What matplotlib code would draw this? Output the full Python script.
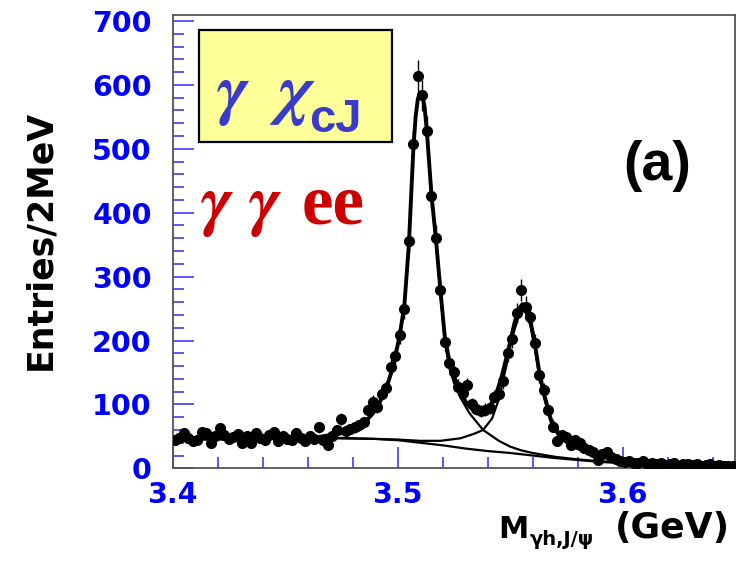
import numpy as np
import matplotlib
matplotlib.use("Agg")
import matplotlib.pyplot as plt
from matplotlib.patches import Rectangle
from matplotlib.ticker import MultipleLocator

# binning: 2 MeV bins from 3.40 to 3.65 GeV
bin_lo = 3.40
bin_width = 0.002

# entries per bin
counts = [
    44, 48, 55, 47, 42, 45, 57, 56, 40, 50,
    63, 52, 46, 49, 53, 39, 50, 39, 55, 48,
    45, 52, 57, 43, 50, 46, 44, 55, 48, 43,
    50, 46, 64, 44, 36, 50, 60, 77, 58, 61,
    64, 67, 72, 91, 104, 96, 117, 125, 159, 176,
    209, 249, 355, 507, 614, 584, 528, 426, 361, 279,
    198, 165, 150, 128, 118, 130, 100, 93, 90, 92,
    94, 112, 117, 136, 180, 203, 243, 279, 253, 237,
    196, 146, 122, 91, 65, 42, 52, 49, 36, 44,
    39, 31, 29, 25, 13, 22, 26, 17, 15, 12,
    10, 12, 8, 9, 11, 7, 8, 6, 9, 5,
    7, 8, 4, 6, 7, 5, 6, 3, 5, 6,
    4, 5, 3, 4, 3,
]

# full fit
fit_x = [3.400, 3.440, 3.465, 3.475, 3.480, 3.485, 3.489, 3.492, 3.495, 3.497,
         3.499, 3.501, 3.503, 3.505, 3.507, 3.508, 3.509, 3.510, 3.511, 3.512,
         3.513, 3.515, 3.517, 3.519, 3.521, 3.523, 3.525, 3.528, 3.531, 3.534,
         3.537, 3.540, 3.543, 3.546, 3.549, 3.552, 3.554, 3.5555, 3.557, 3.559,
         3.561, 3.563, 3.565, 3.568, 3.572, 3.578, 3.585, 3.592, 3.600, 3.615,
         3.630, 3.650]
fit_y = [46, 47, 49, 55, 60, 70, 86, 103, 125, 148,
         175, 210, 255, 350, 500, 550, 578, 588, 584, 565,
         528, 430, 360, 280, 205, 168, 145, 118, 100, 90,
         88, 93, 108, 140, 182, 228, 250, 257, 252, 232,
         195, 150, 118, 78, 52, 37, 27, 19, 13, 9,
         6, 4]

# background + first peak
p1_x = [3.515, 3.517, 3.519, 3.521, 3.523, 3.525, 3.528, 3.532, 3.538, 3.545,
        3.550, 3.555, 3.560, 3.570, 3.580, 3.590, 3.600, 3.620, 3.650]
p1_y = [428, 355, 275, 197, 158, 134, 110, 86, 60, 43,
        34, 28, 24, 18, 14, 11, 9, 6, 3]

# background + second peak
p2_x = [3.400, 3.470, 3.490, 3.500, 3.510, 3.519, 3.528, 3.534, 3.538, 3.542,
        3.545, 3.548, 3.551, 3.554, 3.5555, 3.557, 3.559, 3.561, 3.563, 3.565,
        3.568, 3.572, 3.578, 3.585, 3.592, 3.600, 3.620, 3.650]
p2_y = [46, 48, 46, 45, 43, 43, 47, 54, 60, 78,
        108, 155, 205, 240, 248, 243, 224, 188, 144, 112,
        73, 47, 33, 23, 16, 11, 7, 3]

# background only
bg_x = [3.400, 3.470, 3.490, 3.500, 3.510, 3.520, 3.530, 3.540, 3.550, 3.560,
        3.570, 3.580, 3.590, 3.600, 3.620, 3.650]
bg_y = [45, 47, 46, 44, 40, 36, 31, 27, 24, 20, 16, 13, 10, 8, 6, 3]

x_ticks = [3.4, 3.5, 3.6]
x_ticklabels = ["3.4", "3.5", "3.6"]
y_ticks = [0, 100, 200, 300, 400, 500, 600, 700]

W, H = 753, 568


def fxy(px, py):
    """pixel position -> figure fraction"""
    return px / W, 1 - py / H


fig = plt.figure(figsize=(W / 100, H / 100), dpi=100)
ax = fig.add_axes([172.7 / W, 1 - 468.3 / H, (735 - 172.7) / W, (468.3 - 15) / H])

centers = bin_lo + bin_width * (np.arange(len(counts)) + 0.5)
counts = np.array(counts, dtype=float)

ax.plot(bg_x, bg_y, color="black", lw=1.6, zorder=2)
ax.plot(p1_x, p1_y, color="black", lw=1.6, zorder=2)
ax.plot(p2_x, p2_y, color="black", lw=1.6, zorder=2)
ax.plot(fit_x, fit_y, color="black", lw=2.8, zorder=3)
ax.errorbar(centers, counts, yerr=np.sqrt(counts), fmt="o", color="black",
            ms=7, elinewidth=1.0, capsize=0, zorder=4)

ax.set_xlim(3.4, 3.65)
ax.set_ylim(0, 709.4)
ax.set_xticks(x_ticks)
ax.set_xticklabels(x_ticklabels)
ax.set_yticks(y_ticks)
ax.xaxis.set_minor_locator(MultipleLocator(0.02))
ax.yaxis.set_minor_locator(MultipleLocator(20))

tick_col = "#4a4aff"
ax.tick_params(which="both", direction="in", color=tick_col, width=1.3,
               top=False, right=False)
ax.tick_params(which="major", length=15)
ax.tick_params(which="minor", length=8)
ax.tick_params(axis="y", which="major", pad=15, labelsize=20.5, labelcolor="#0000ff")
ax.tick_params(axis="x", which="major", pad=9, labelsize=20.5, labelcolor="#0000ff")
for lbl in ax.get_xticklabels() + ax.get_yticklabels():
    lbl.set_fontweight("bold")
    lbl.set_family("DejaVu Sans")

for sp in ax.spines.values():
    sp.set_color("#555555")
    sp.set_linewidth(1.3)

# yellow label box
x0, y0 = fxy(199, 142)
x1, y1 = fxy(392, 30)
fig.patches.append(Rectangle((x0, y0), x1 - x0, y1 - y0, transform=fig.transFigure,
                             facecolor="#ffff99", edgecolor="black", lw=1.6, zorder=5))

blue = "#3a3acc"
red = "#cc0000"
fig.text(*fxy(216, 112), r"$\boldsymbol{\gamma}$", color=blue, math_fontfamily="stix",
         fontsize=50, ha="left", va="baseline", zorder=6)
fig.text(*fxy(269, 112), r"$\boldsymbol{\chi}$", color=blue, math_fontfamily="stix",
         fontsize=50, ha="left", va="baseline", zorder=6)
fig.text(*fxy(309, 132), "cJ", color=blue, family="Liberation Sans", fontsize=34,
         fontweight="bold", ha="left", va="baseline", zorder=6)

fig.text(*fxy(200, 223), r"$\boldsymbol{\gamma}$", color=red, math_fontfamily="stix",
         fontsize=50, ha="left", va="baseline")
fig.text(*fxy(248, 223), r"$\boldsymbol{\gamma}$", color=red, math_fontfamily="stix",
         fontsize=50, ha="left", va="baseline")
fig.text(*fxy(302, 223), "ee", color=red, family="Liberation Serif", fontsize=51,
         fontweight="bold", ha="left", va="baseline")

fig.text(*fxy(657, 166), "(a)", family="Liberation Sans", fontweight="bold",
         fontsize=40, ha="center", va="center")

# axis titles
fig.text(*fxy(40, 240), "Entries/2MeV", family="DejaVu Sans", fontweight="bold",
         fontsize=25, rotation=90, ha="center", va="center")
fig.text(*fxy(498, 538), "M", family="DejaVu Sans", fontweight="bold",
         fontsize=22, ha="left", va="baseline")
fig.text(*fxy(530, 545), "γh,J/ψ", family="DejaVu Sans", fontweight="bold",
         fontsize=14, ha="left", va="baseline")
fig.text(*fxy(672, 538), "(GeV)", family="DejaVu Sans", fontweight="bold",
         fontsize=26, ha="center", va="baseline")

fig.savefig("out.png", dpi=100)
